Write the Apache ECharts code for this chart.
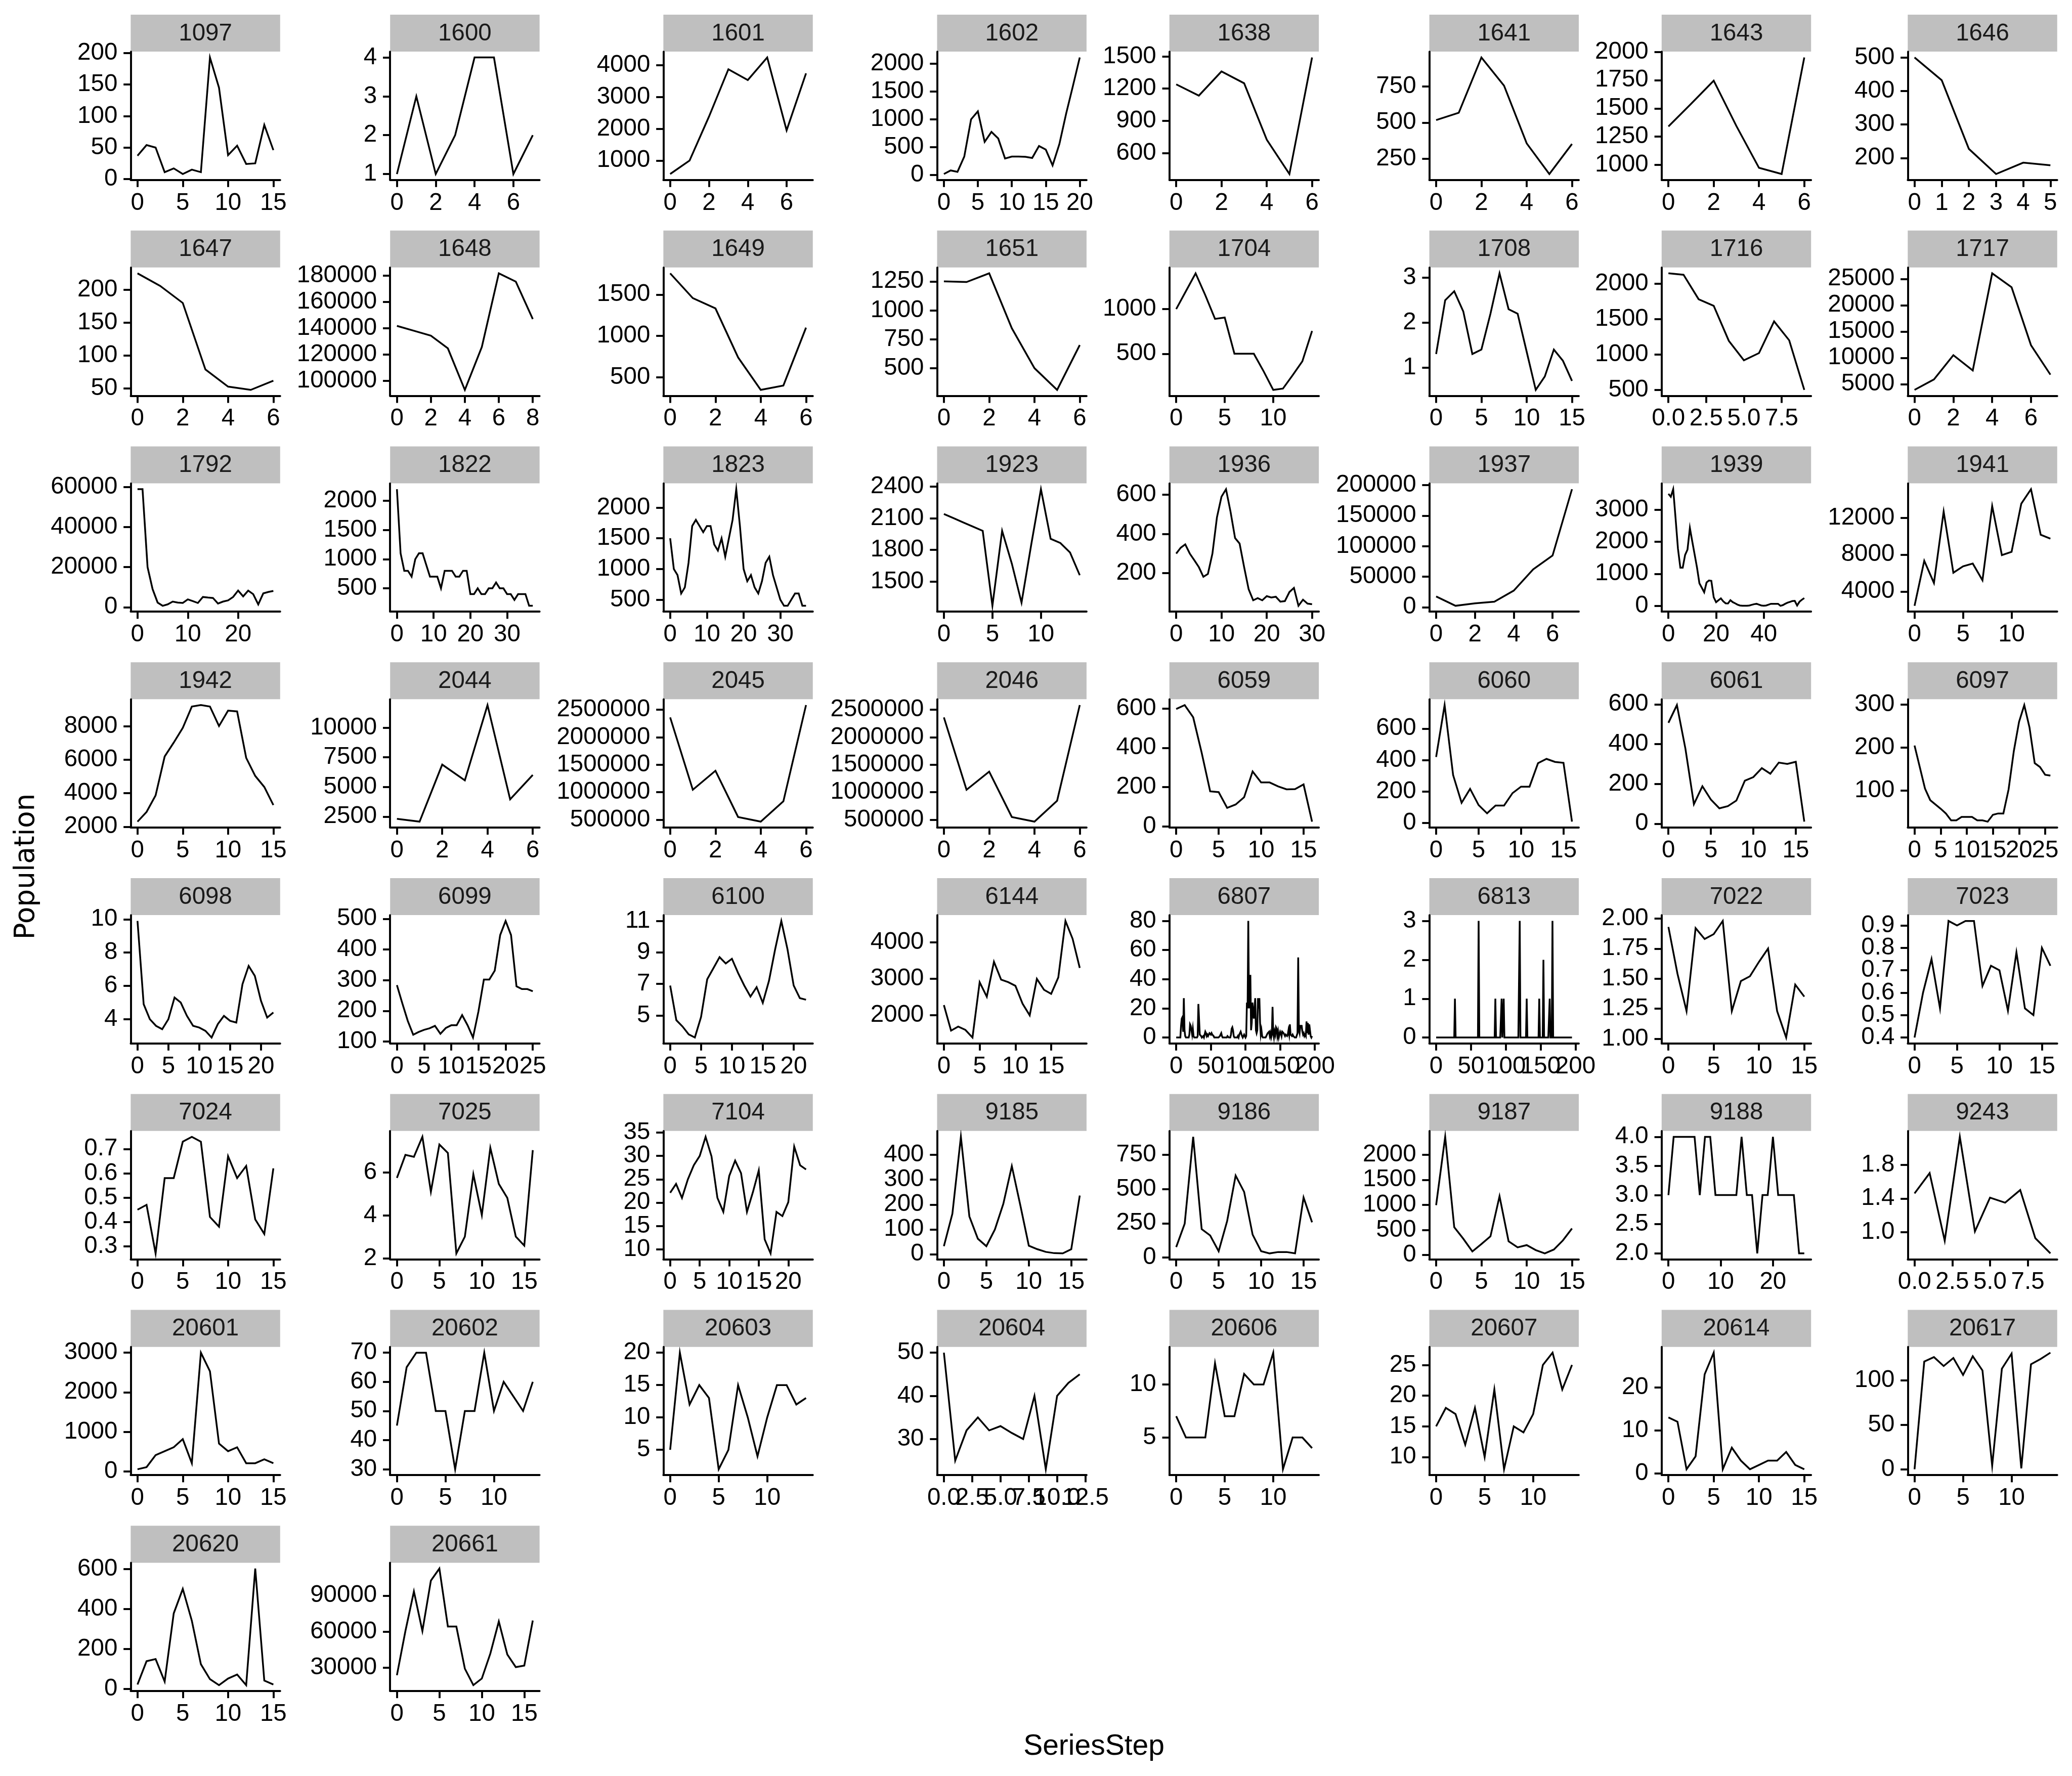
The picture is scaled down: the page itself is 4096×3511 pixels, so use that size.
<!DOCTYPE html>
<html><head><meta charset="utf-8">
<script src="https://cdn.jsdelivr.net/npm/echarts@6/dist/echarts.min.js"></script>
<style>html,body{margin:0;padding:0;background:#fff;}#c{width:4096px;height:3511px;}</style>
</head><body><div id="c"></div>
<script>
// ---------- DATA ----------
const v_1097 = [37,54,50,11,17,8,15,11,193,145,38,53,24,25,86,46];
const xt_1097 = ['0','5','10','15']; const yt_1097 = ['0','50','100','150','200'];
const v_1600 = [1,3,1,2,4,4,1,2];
const xt_1600 = ['0','2','4','6']; const yt_1600 = ['1','2','3','4'];
const v_1601 = [575,1000,2380,3870,3530,4240,1950,3740];
const xt_1601 = ['0','2','4','6']; const yt_1601 = ['1000','2000','3000','4000'];
const v_1602 = [15,80,55,330,1000,1145,595,775,655,295,330,330,325,305,520,455,170,555,1105,1605,2115];
const xt_1602 = ['0','5','10','15','20']; const yt_1602 = ['0','500','1000','1500','2000'];
const v_1638 = [1240,1135,1360,1250,725,405,1490];
const xt_1638 = ['0','2','4','6']; const yt_1638 = ['600','900','1200','1500'];
const v_1641 = [517,568,948,754,357,146,353];
const xt_1641 = ['0','2','4','6']; const yt_1641 = ['250','500','750'];
const v_1643 = [1340,1540,1745,1345,975,920,1950];
const xt_1643 = ['0','2','4','6']; const yt_1643 = ['1000','1250','1500','1750','2000'];
const v_1646 = [500,432,227,152,186,178];
const xt_1646 = ['0','1','2','3','4','5']; const yt_1646 = ['200','300','400','500'];

const v_1647 = [225,206,180,79,53,48,62];
const xt_1647 = ['0','2','4','6']; const yt_1647 = ['50','100','150','200'];
const v_1648 = [141700,138000,134300,124600,93000,125700,181700,175400,146900];
const xt_1648 = ['0','2','4','6','8']; const yt_1648 = ['100000','120000','140000','160000','180000'];
const v_1649 = [1757,1457,1333,740,347,400,1100];
const xt_1649 = ['0','2','4','6']; const yt_1649 = ['500','1000','1500'];
const v_1651 = [1250,1245,1320,845,500,312,700];
const xt_1651 = ['0','2','4','6']; const yt_1651 = ['500','750','1000','1250'];
const v_1704 = [1000,1200,1400,1155,890,905,500,500,500,305,95,110,260,415,755];
const xt_1704 = ['0','5','10']; const yt_1704 = ['500','1000'];
const v_1708 = [1.3,2.5,2.7,2.25,1.3,1.4,2.2,3.1,2.3,2.2,1.35,0.5,0.8,1.4,1.15,0.7];
const xt_1708 = ['0','5','10','15']; const yt_1708 = ['1','2','3'];
const v_1716 = [2145,2125,1780,1687,1193,918,1020,1467,1200,500];
const xt_1716 = ['0.0','2.5','5.0','7.5']; const yt_1716 = ['500','1000','1500','2000'];
const v_1717 = [3900,5900,10500,7600,26050,23400,12400,6800];
const xt_1717 = ['0','2','4','6']; const yt_1717 = ['5000','10000','15000','20000','25000'];

const v_1792 = [58900,58900,20000,9000,2300,700,1400,2800,2300,2100,3900,3000,2100,5100,4800,4600,1800,2800,3400,5100,8300,5400,8300,6500,1400,6900,7600,8100];
const xt_1792 = ['0','10','20']; const yt_1792 = ['0','20000','40000','60000'];
const v_1822 = [2200,1100,800,800,700,1000,1100,1100,900,700,700,700,500,800,800,800,700,700,800,800,400,400,500,400,400,500,500,600,500,500,400,400,300,400,400,400,200,200];
const xt_1822 = ['0','10','20','30']; const yt_1822 = ['500','1000','1500','2000'];
const v_1823 = [1500,1000,900,600,700,1100,1700,1800,1700,1600,1700,1700,1400,1300,1500,1200,1500,1800,2300,1700,1000,800,900,700,600,800,1100,1200,900,700,500,400,400,500,600,600,400,400];
const xt_1823 = ['0','10','20','30']; const yt_1823 = ['500','1000','1500','2000'];
const v_1923 = [2140,2100,2060,2020,1980,1270,1980,1670,1300,1850,2375,1905,1865,1775,1560];
const xt_1923 = ['0','5','10']; const yt_1923 = ['1500','1800','2100','2400'];
const v_1936 = [300,330,347,300,266,231,182,196,300,485,590,628,513,379,351,231,118,62,73,62,83,76,80,55,58,104,125,34,65,45,42];
const xt_1936 = ['0','10','20','30']; const yt_1936 = ['200','400','600'];
const v_1937 = [17600,2300,6300,9000,27100,62000,84600,193200];
const xt_1937 = ['0','2','4','6']; const yt_1937 = ['0','50000','100000','150000','200000'];
const v_1939 = [3497,3405,3641,2728,1780,1190,1190,1590,1754,2431,2010,1600,1190,703,564,421,728,790,780,267,113,174,231,138,77,72,174,113,77,36,10,0,0,0,10,31,51,62,36,10,0,10,36,62,62,62,62,0,20,62,97,123,149,154,10,128,190,241];
const xt_1939 = ['0','20','40']; const yt_1939 = ['0','1000','2000','3000'];
const v_1941 = [2450,7330,4920,12670,6030,6730,7030,5220,13270,7940,8300,13520,15090,10150,9730];
const xt_1941 = ['0','5','10']; const yt_1941 = ['4000','8000','12000'];

const v_1942 = [2300,2880,3870,6190,7020,7900,9170,9260,9170,8010,8930,8880,6110,5030,4370,3290];
const xt_1942 = ['0','5','10','15']; const yt_1942 = ['2000','4000','6000','8000'];
const v_2044 = [2310,2070,6880,5550,11900,3950,6010];
const xt_2044 = ['0','2','4','6']; const yt_2044 = ['2500','5000','7500','10000'];
const v_2045 = [2360000,1045000,1390000,550000,465000,835000,2585000];
const xt_2045 = ['0','2','4','6']; const yt_2045 = ['500000','1000000','1500000','2000000','2500000'];
const v_2046 = [2360000,1045000,1375000,550000,465000,845000,2585000];
const xt_2046 = ['0','2','4','6']; const yt_2046 = ['500000','1000000','1500000','2000000','2500000'];
const v_6059 = [597,617,555,375,179,175,95,112,149,280,224,224,204,189,190,214,25];
const xt_6059 = ['0','5','10','15']; const yt_6059 = ['0','200','400','600'];
const v_6060 = [419,750,304,127,216,113,60,110,110,189,230,230,380,407,388,382,7];
const xt_6060 = ['0','5','10','15']; const yt_6060 = ['0','200','400','600'];
const v_6061 = [507,596,377,98,188,121,77,88,116,216,234,279,251,307,300,311,10];
const xt_6061 = ['0','5','10','15']; const yt_6061 = ['0','200','400','600'];
const v_6097 = [205,155,105,78,68,58,47,31,31,39,39,39,31,31,28,44,47,47,103,192,260,299,247,164,155,137,135];
const xt_6097 = ['0','5','10','15','20','25']; const yt_6097 = ['100','200','300'];

const v_6098 = [9.9,4.9,4.0,3.6,3.4,4.0,5.3,5.0,4.2,3.6,3.5,3.3,2.9,3.7,4.2,3.9,3.8,6.1,7.2,6.6,5.1,4.1,4.4];
const xt_6098 = ['0','5','10','15','20']; const yt_6098 = ['4','6','8','10'];
const v_6099 = [284,224,167,122,131,138,143,151,125,144,153,153,186,153,113,198,302,302,331,447,493,447,280,271,271,264];
const xt_6099 = ['0','5','10','15','20','25']; const yt_6099 = ['100','200','300','400','500'];
const v_6100 = [6.9,4.7,4.3,3.8,3.6,4.9,7.3,8.0,8.7,8.3,8.6,7.7,6.9,6.2,6.8,5.8,7.2,9.2,11.0,9.2,6.9,6.1,6.0];
const xt_6100 = ['0','5','10','15','20']; const yt_6100 = ['5','7','9','11'];
const v_6144 = [2280,1580,1690,1600,1390,2910,2510,3470,2980,2910,2810,2320,2000,3000,2700,2590,3040,4590,4100,3300];
const xt_6144 = ['0','5','10','15']; const yt_6144 = ['2000','3000','4000'];
const v_6807 = [
 0,0,0,0,0,0,0,8,13,14,
 4,27,5,1,0,0,0,0,0,2,
 9,8,5,2,6,1,0,0,0,0,
 0,1,23,23,2,2,1,0,0,1,
 0,2,4,3,1,2,1,2,3,3,
 2,3,2,2,1,0,0,0,0,0,
 0,0,0,1,2,3,1,0,0,0,
 0,0,0,0,1,1,0,0,0,2,
 6,7,5,1,0,0,0,0,0,1,
 0,2,3,4,4,1,0,1,2,1,
 0,1,24,20,80,20,30,43,5,10,
 24,24,13,20,27,5,3,5,27,20,
 27,10,2,5,1,0,0,0,0,0,
 1,2,3,3,4,1,3,0,2,21,
 3,0,4,2,7,6,1,4,0,2,
 4,3,1,4,4,3,2,1,2,2,
 1,2,5,2,9,2,2,1,2,1,
 1,0,0,0,0,3,55,5,3,8,
 8,8,4,2,3,1,2,1,11,3,
 10,2,9,9,1,0,1];
const xt_6807 = ['0','50','100','150','200']; const yt_6807 = ['0','20','40','60','80'];
const v_6813 = [
 0,0,0,0,0,0,0,0,0,0,
 0,0,0,0,0,0,0,0,0,0,
 0,0,0,0,0,0,0,1,0,0,
 0,0,0,0,0,0,0,0,0,0,
 0,0,0,0,0,0,0,0,0,0,
 0,0,0,0,0,0,0,0,0,0,
 0,3,0,0,0,0,0,0,0,0,
 0,0,0,0,0,0,0,0,0,0,
 0,0,0,0,0,1,0,0,0,0,
 0,0,0,0,1,0,0,1,0,0,
 0,0,0,0,0,0,0,0,0,0,
 0,0,0,0,0,0,0,0,0,0,
 3,0,0,0,0,0,0,0,0,0,
 1,0,0,0,0,0,0,0,0,0,
 0,0,0,0,0,0,0,0,1,0,
 0,0,0,0,2,0,0,0,0,0,
 0,0,0,1,0,0,0,3,0,0,
 0,0,0,0,0,0,0,0,0,0,
 0,0,0,0,0,0,0,0,0,0,
 0,0,0,0,0,0];
const xt_6813 = ['0','50','100','150','200']; const yt_6813 = ['0','1','2','3'];
const v_7022 = [1.93,1.54,1.23,1.92,1.83,1.87,1.98,1.23,1.48,1.52,1.64,1.75,1.23,1.01,1.45,1.35];
const xt_7022 = ['0','5','10','15']; const yt_7022 = ['1.00','1.25','1.50','1.75','2.00'];
const v_7023 = [0.40,0.60,0.75,0.53,0.92,0.90,0.92,0.92,0.63,0.72,0.70,0.52,0.78,0.53,0.50,0.80,0.72];
const xt_7023 = ['0','5','10','15']; const yt_7023 = ['0.4','0.5','0.6','0.7','0.8','0.9'];

const v_7024 = [0.45,0.47,0.27,0.58,0.58,0.73,0.75,0.73,0.42,0.38,0.67,0.58,0.63,0.41,0.35,0.62];
const xt_7024 = ['0','5','10','15']; const yt_7024 = ['0.3','0.4','0.5','0.6','0.7'];
const v_7025 = [5.74,6.81,6.72,7.65,5.10,7.29,6.90,2.23,3.01,5.91,4.01,7.14,5.46,4.81,3.01,2.59,7.03];
const xt_7025 = ['0','5','10','15']; const yt_7025 = ['2','4','6'];
const v_7104 = [22.1,24,21,25,28,30,34.1,29.9,21,18,25.7,29,26.3,18,22.2,26.9,12.1,9.1,18,17.1,20.1,32,28,27.1];
const xt_7104 = ['0','5','10','15','20']; const yt_7104 = ['10','15','20','25','30','35'];
const v_9185 = [32,163,473,152,62,32,99,203,355,197,34,20,9,4,3,20,236];
const xt_9185 = ['0','5','10','15']; const yt_9185 = ['0','100','200','300','400'];
const v_9186 = [76,247,881,207,161,46,266,598,479,167,46,30,40,40,30,438,257];
const xt_9186 = ['0','5','10','15']; const yt_9186 = ['0','250','500','750'];
const v_9187 = [995,2357,555,325,72,220,374,1172,275,154,198,99,33,110,292,529];
const xt_9187 = ['0','5','10','15']; const yt_9187 = ['0','500','1000','1500','2000'];
const v_9188 = [3,4,4,4,4,4,3,4,4,3,3,3,3,3,4,3,3,2,3,3,4,3,3,3,3,2,2];
const xt_9188 = ['0','10','20']; const yt_9188 = ['2.0','2.5','3.0','3.5','4.0'];
const v_9243 = [1.46,1.70,0.90,2.13,1.01,1.41,1.35,1.50,0.93,0.75];
const xt_9243 = ['0.0','2.5','5.0','7.5']; const yt_9243 = ['1.0','1.4','1.8'];

const v_20601 = [53,107,411,510,609,815,206,3000,2528,701,510,609,206,206,305,206];
const xt_20601 = ['0','5','10','15']; const yt_20601 = ['0','1000','2000','3000'];
const v_20602 = [45,65,70,70,50,50,30,50,50,70,50,60,55,50,60];
const xt_20602 = ['0','5','10']; const yt_20602 = ['30','40','50','60','70'];
const v_20603 = [5,20,12,15,13,2,5,15,10,4,10,15,15,12,13];
const xt_20603 = ['0','5','10']; const yt_20603 = ['5','10','15','20'];
const v_20604 = [50,25,32,35,32,33,31.4,30,40,23,40,43,45];
const xt_20604 = ['0.0','2.5','5.0','7.5','10.0','12.5']; const yt_20604 = ['30','40','50'];
const v_20606 = [7,5,5,5,12,7,7,11,10,10,13,2,5,5,4];
const xt_20606 = ['0','5','10']; const yt_20606 = ['5','10'];
const v_20607 = [15,18,17,12,18,10,21,8,15,14,17,25,27,21,25];
const xt_20607 = ['0','5','10']; const yt_20607 = ['10','15','20','25'];
const v_20614 = [13,12,1,4,23,28,1,6,3,1,2,3,3,5,2,1];
const xt_20614 = ['0','5','10','15']; const yt_20614 = ['0','10','20'];
const v_20617 = [0,121,126,116,125,106,127,111,4,113,130,1,118,124,131];
const xt_20617 = ['0','5','10']; const yt_20617 = ['0','50','100'];

const v_20620 = [21,138,149,36,378,501,341,123,48,18,51,71,18,603,41,21];
const xt_20620 = ['0','5','10','15']; const yt_20620 = ['0','200','400','600'];
const v_20661 = [23750,60500,93500,60500,102500,112500,64250,64250,29250,15500,21000,41750,68500,41000,30500,31750,69250];
const xt_20661 = ['0','5','10','15']; const yt_20661 = ['30000','60000','90000'];

const panels = [
 ['1097',v_1097,xt_1097,yt_1097],['1600',v_1600,xt_1600,yt_1600],['1601',v_1601,xt_1601,yt_1601],['1602',v_1602,xt_1602,yt_1602],
 ['1638',v_1638,xt_1638,yt_1638],['1641',v_1641,xt_1641,yt_1641],['1643',v_1643,xt_1643,yt_1643],['1646',v_1646,xt_1646,yt_1646],
 ['1647',v_1647,xt_1647,yt_1647],['1648',v_1648,xt_1648,yt_1648],['1649',v_1649,xt_1649,yt_1649],['1651',v_1651,xt_1651,yt_1651],
 ['1704',v_1704,xt_1704,yt_1704],['1708',v_1708,xt_1708,yt_1708],['1716',v_1716,xt_1716,yt_1716],['1717',v_1717,xt_1717,yt_1717],
 ['1792',v_1792,xt_1792,yt_1792],['1822',v_1822,xt_1822,yt_1822],['1823',v_1823,xt_1823,yt_1823],['1923',v_1923,xt_1923,yt_1923],
 ['1936',v_1936,xt_1936,yt_1936],['1937',v_1937,xt_1937,yt_1937],['1939',v_1939,xt_1939,yt_1939],['1941',v_1941,xt_1941,yt_1941],
 ['1942',v_1942,xt_1942,yt_1942],['2044',v_2044,xt_2044,yt_2044],['2045',v_2045,xt_2045,yt_2045],['2046',v_2046,xt_2046,yt_2046],
 ['6059',v_6059,xt_6059,yt_6059],['6060',v_6060,xt_6060,yt_6060],['6061',v_6061,xt_6061,yt_6061],['6097',v_6097,xt_6097,yt_6097],
 ['6098',v_6098,xt_6098,yt_6098],['6099',v_6099,xt_6099,yt_6099],['6100',v_6100,xt_6100,yt_6100],['6144',v_6144,xt_6144,yt_6144],
 ['6807',v_6807,xt_6807,yt_6807],['6813',v_6813,xt_6813,yt_6813],['7022',v_7022,xt_7022,yt_7022],['7023',v_7023,xt_7023,yt_7023],
 ['7024',v_7024,xt_7024,yt_7024],['7025',v_7025,xt_7025,yt_7025],['7104',v_7104,xt_7104,yt_7104],['9185',v_9185,xt_9185,yt_9185],
 ['9186',v_9186,xt_9186,yt_9186],['9187',v_9187,xt_9187,yt_9187],['9188',v_9188,xt_9188,yt_9188],['9243',v_9243,xt_9243,yt_9243],
 ['20601',v_20601,xt_20601,yt_20601],['20602',v_20602,xt_20602,yt_20602],['20603',v_20603,xt_20603,yt_20603],['20604',v_20604,xt_20604,yt_20604],
 ['20606',v_20606,xt_20606,yt_20606],['20607',v_20607,xt_20607,yt_20607],['20614',v_20614,xt_20614,yt_20614],['20617',v_20617,xt_20617,yt_20617],
 ['20620',v_20620,xt_20620,yt_20620],['20661',v_20661,xt_20661,yt_20661]
];

// ---------- LAYOUT (reference px, scaled by S) ----------
const S = 0.975;
const COL_LEFT = [265, 791, 1345, 1900, 2371, 2898, 3369, 3868];
const ROW0_TOP = 104.7, ROW_PITCH = 437.7;
const PANEL_W = 303, PANEL_H = 260, STRIP_H = 75;
const FONT = '"Liberation Sans", Arial, sans-serif';
const FS = 47.5;
const AXW = 3.9, LW = 3.5, TICKLEN = 14.2;

const grids = [], xAxes = [], yAxes = [], series = [], graphics = [];

function labeler(list) {
  return function (v) {
    for (const s of list) if (Math.abs(Number(s) - v) < 1e-6 * Math.max(1, Math.abs(v))) return s;
    return '';
  };
}
// main axis: line + all ticks + labels with even index; aux axis (own grid, same rect): labels with odd index.
// Splitting the labels over two axes keeps every label visible, like ggplot, even where they crowd.
function axisOpt(ticks, isX, main) {
  const all = ticks.map(Number);
  const part = ticks.filter((t, k) => (k % 2 === 0) === main);
  return {
    axisLine: { show: main, onZero: false, lineStyle: { color: '#000', width: AXW } },
    axisTick: { show: main, length: TICKLEN, lineStyle: { color: '#000', width: AXW }, customValues: all },
    axisLabel: { show: part.length > 0, margin: isX ? 22 : 26, color: '#000', fontSize: FS, fontFamily: FONT,
                 customValues: part.map(Number), formatter: labeler(ticks), hideOverlap: false,
                 showMinLabel: true, showMaxLabel: true },
    splitLine: { show: false }
  };
}

let g = 0;
panels.forEach((p, i) => {
  const [name, vals, xt, yt] = p;
  const col = i % 8, row = Math.floor(i / 8);
  const left = COL_LEFT[col] * S;
  const top = (ROW0_TOP + ROW_PITCH * row) * S;
  const w = PANEL_W * S, h = PANEL_H * S;
  const n = vals.length, xr = n - 1;
  const lo = Math.min(...vals), hi = Math.max(...vals), yr = hi - lo;
  const xmin = -0.05 * xr, xmax = xr + 0.05 * xr, ymin = lo - 0.05 * yr, ymax = hi + 0.05 * yr;
  [true, false].forEach(main => {
    grids.push({ left: left, top: top, width: w, height: h });
    xAxes.push(Object.assign({ type: 'value', gridIndex: g, position: 'bottom', min: xmin, max: xmax }, axisOpt(xt, true, main)));
    yAxes.push(Object.assign({ type: 'value', gridIndex: g, position: 'left', min: ymin, max: ymax }, axisOpt(yt, false, main)));
    if (main) {
      series.push({ type: 'line', xAxisIndex: g, yAxisIndex: g, data: vals.map((v, j) => [j, v]),
        showSymbol: false, symbol: 'none', silent: true, lineStyle: { color: '#000', width: LW, join: 'miter' } });
    }
    g++;
  });
  const sh = STRIP_H * S;
  graphics.push({ type: 'rect', silent: true, shape: { x: left, y: top - sh, width: w, height: sh },
    style: { fill: '#bfbfbf' } });
  graphics.push({ type: 'text', silent: true, style: { text: name, x: left + w / 2, y: top - sh / 2 + 1,
    align: 'center', verticalAlign: 'middle', fill: '#1a1a1a', fontSize: FS, fontFamily: FONT } });
});

graphics.push({ type: 'text', silent: true, style: { text: 'SeriesStep', x: 2218 * S, y: 3542 * S,
  align: 'center', verticalAlign: 'middle', fill: '#000', fontSize: 57, fontFamily: FONT } });
graphics.push({ type: 'text', silent: true, x: 54 * S, y: 1757 * S, rotation: Math.PI / 2,
  style: { text: 'Population', x: 0, y: 0, align: 'center', verticalAlign: 'middle', fill: '#000',
  fontSize: 55, fontFamily: '"DejaVu Sans", sans-serif' } });

const chart = echarts.init(document.getElementById('c'), null, { renderer: 'canvas', width: 4096, height: 3511 });
chart.setOption({
  animation: false,
  backgroundColor: '#ffffff',
  grid: grids, xAxis: xAxes, yAxis: yAxes, series: series, graphic: graphics
});
</script>
</body></html>
